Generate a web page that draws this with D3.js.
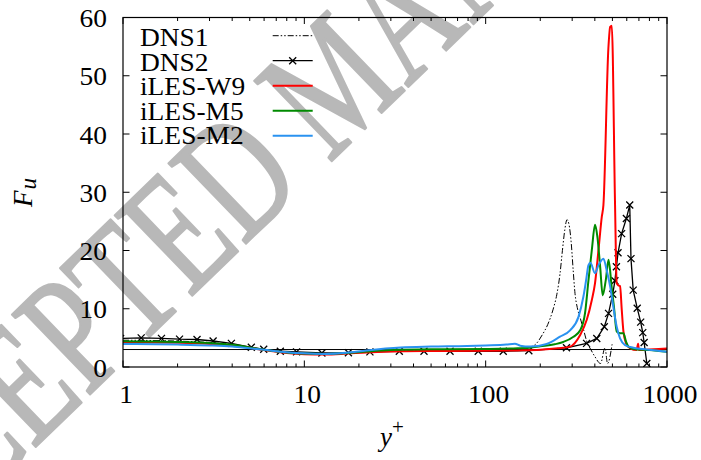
<!DOCTYPE html>
<html>
<head>
<meta charset="utf-8">
<script src="https://cdn.jsdelivr.net/npm/d3@7/dist/d3.min.js"></script>
<style>
  html, body { margin: 0; padding: 0; background: #fff; }
  svg { display: block; }
  text { font-family: "Liberation Serif", "Times New Roman", serif; fill: #000; }
</style>
</head>
<body>
<svg id="chart" width="701" height="460"></svg>
<script>
// Flatness of the streamwise velocity fluctuation, F_u, versus y+
const xTickLabels = ["1", "10", "100", "1000"];
const xMajorTicks = [1, 10, 100, 1000];
const yTicks = [0, 10, 20, 30, 40, 50, 60];
const gaussianFlatness = 3;

const seriesNames = ["DNS1", "DNS2", "iLES-W9", "iLES-M5", "iLES-M2"];

const dns1 = [[1,4.6],[2,4.45],[3,4.2],[4,3.85],[5,3.3],[6,2.95],[8,2.55],[10,2.35],[13,2.3],[17,2.4],
  [22,2.55],[30,2.7],[50,2.8],[80,2.85],[120,2.9],[150,3.0],[172,3.3],[190,4.0],[205,5.5],[220,7.3],
  [235,9.8],[247,12.5],[257,16],[265,20],[273,23.5],[281,25.3],[288,24.5],[296,21.5],[304,16.5],
  [311,12.6],[320,10.2],[333,8.3],[346,6.5],[361,4.4],[380,3.0],[400,1.8],[430,0.6],[455,3.3],
  [470,0.6],[498,3.9]];

const dns2 = [[0.97,4.9],[1.26,5.0],[1.63,4.92],[2.05,4.78],[2.56,4.72],[3.14,4.46],[3.96,4.06],
  [5.1,3.38],[5.97,3.04],[7.37,2.7],[9.06,2.6],[12.5,2.4],[17.5,2.45],[23,2.6],[33.4,2.7],
  [45.7,2.7],[63.6,2.7],[91,2.7],[125,2.7],[173,2.8],[279,3.3],[360,4.06],[410,4.9],[451,6.9],
  [476,9.2],[502,12.5],[516,14.8],[526,17.2],[537,19.6],[562,22.9],[597,25.5],[623,27.8],
  [633,18.6],[651,13.2],[685,10.1],[716,7.7],[735,5.9],[748,4.2],[774,0.6]];

const lesW9 = [[1,4.25],[1.5,4.22],[2,4.15],[3,3.95],[4,3.7],[5,3.3],[6,2.9],[8,2.4],[10,2.2],
  [13,2.15],[17,2.3],[22,2.5],[30,2.65],[50,2.75],[100,2.8],[150,2.85],[200,2.95],[250,3.2],
  [292,3.5],[332,5.5],[361,8.1],[385,11.5],[401,14.4],[419,20.1],[437,25.8],[446,27.8],
  [475,54.7],[486,58.4],[496,58.6],[517,27.8],[528,14.4],[540,14.0],[551,13.9],[563,9.8],
  [575,6.1],[595,4.06],[626,3.2],[680,2.9],[693,4.0],[700,2.9],[800,3.0],[900,3.1],[1000,3.2]];

const lesM5 = [[1,4.4],[1.5,4.38],[2,4.3],[3,4.1],[4,3.8],[5,3.35],[6,2.95],[8,2.5],[10,2.3],
  [13,2.25],[17,2.4],[22,2.65],[30,2.9],[50,3.05],[100,3.1],[150,3.2],[175,3.3],[200,3.55],
  [240,3.9],[268,4.3],[305,5.2],[332,6.3],[353,9.2],[369,14.9],[385,20.1],[401,24.4],[413,22.4],
  [428,17.2],[442,12.3],[460,15],[476,18.4],[496,13.5],[510,10.3],[528,6.1],[551,5.8],[575,5.8],
  [595,4.3],[613,3.5],[650,3.1],[800,2.9],[1000,2.6]];

const lesM2 = [[1,3.95],[1.5,3.92],[2,3.85],[3,3.7],[4,3.5],[5,3.2],[6,2.95],[8,2.55],[10,2.35],
  [13,2.25],[17,2.45],[22,2.85],[34,3.35],[50,3.5],[79,3.6],[100,3.7],[130,3.85],[145,4.0],
  [155,3.65],[176,3.5],[217,3.95],[257,5.2],[292,6.3],[325,8.6],[346,12.1],[358,14.9],[369,17.5],
  [378,17.9],[401,16.1],[419,17.5],[446,18.6],[465,16.6],[486,13.8],[506,10.3],[528,6.9],
  [551,4.9],[587,3.77],[653,3.3],[774,3.0],[1000,2.6]];

const svg = d3.select("#chart");
const margin = { left: 123, right: 34, top: 17.5, bottom: 93 };
const W = 701, H = 460;
const x = d3.scaleLog().domain([1, 1000]).range([margin.left, W - margin.right]);
const y = d3.scaleLinear().domain([0, 60]).range([H - margin.bottom, margin.top]);
const stretch = 1.12;
const fs = 24.5;

// background watermark
svg.append("text")
  .attr("transform", "translate(-148,624) rotate(-44) scale(0.72,1)")
  .attr("font-size", 170)
  .style("fill", "#b8b8b8")
  .style("stroke", "#b8b8b8")
  .style("stroke-width", 2.5)
  .style("stroke-linejoin", "round")
  .text("ACCEPTED MANUSCRIPT");

svg.append("clipPath").attr("id", "plotclip").append("rect")
  .attr("x", x(1)).attr("y", y(60)).attr("width", x(1000) - x(1)).attr("height", y(0) - y(60));

// ticks (inward, mirrored)
const tickG = svg.append("g").attr("stroke", "#000").attr("stroke-width", 1);
const minorTicks = x.ticks().filter(v => !xMajorTicks.includes(v));
minorTicks.forEach(v => {
  tickG.append("line").attr("x1", x(v)).attr("x2", x(v)).attr("y1", y(0)).attr("y2", y(0) - 3.5);
  tickG.append("line").attr("x1", x(v)).attr("x2", x(v)).attr("y1", y(60)).attr("y2", y(60) + 3.5);
});
xMajorTicks.forEach(v => {
  tickG.append("line").attr("x1", x(v)).attr("x2", x(v)).attr("y1", y(0)).attr("y2", y(0) - 6.5);
  tickG.append("line").attr("x1", x(v)).attr("x2", x(v)).attr("y1", y(60)).attr("y2", y(60) + 6.5);
});
yTicks.forEach(v => {
  tickG.append("line").attr("x1", x(1)).attr("x2", x(1) + 6.5).attr("y1", y(v)).attr("y2", y(v));
  tickG.append("line").attr("x1", x(1000)).attr("x2", x(1000) - 6.5).attr("y1", y(v)).attr("y2", y(v));
});

// tick labels
xMajorTicks.forEach((v, i) => {
  svg.append("text")
    .attr("transform", `translate(${x(v) + 3},403) scale(${stretch},1)`)
    .attr("text-anchor", "middle").attr("font-size", fs)
    .text(xTickLabels[i]);
});
yTicks.forEach(v => {
  svg.append("text")
    .attr("transform", `translate(107,${y(v) + 9.5}) scale(${stretch},1)`)
    .attr("text-anchor", "end").attr("font-size", fs)
    .text(v);
});

// reference line at the Gaussian flatness value
svg.append("line")
  .attr("x1", x(1)).attr("x2", x(1000))
  .attr("y1", y(gaussianFlatness)).attr("y2", y(gaussianFlatness))
  .attr("stroke", "#000").attr("stroke-width", 1);

const plot = svg.append("g").attr("clip-path", "url(#plotclip)");
const smooth = d3.line().x(d => x(d[0])).y(d => y(d[1])).curve(d3.curveMonotoneX);
const straight = d3.line().x(d => x(d[0])).y(d => y(d[1]));

plot.append("path").attr("d", smooth(dns1)).attr("fill", "none")
  .attr("stroke", "#000").attr("stroke-width", 1).attr("stroke-dasharray", "6,2,1.5,2,1.5,2");

plot.append("path").attr("d", straight(dns2)).attr("fill", "none")
  .attr("stroke", "#000").attr("stroke-width", 1.3);

const crossPath = (cx, cy, r) => `M${cx - r},${cy - r}L${cx + r},${cy + r}M${cx - r},${cy + r}L${cx + r},${cy - r}`;
plot.append("g").selectAll("path").data(dns2).join("path")
  .attr("d", d => crossPath(x(d[0]), y(d[1]), 3.5))
  .attr("stroke", "#000").attr("stroke-width", 1.3);

const lesColors = ["#ff0000", "#008a00", "#2a92f0"];
[lesW9, lesM5, lesM2].forEach((s, i) => {
  plot.append("path").attr("d", smooth(s)).attr("fill", "none")
    .attr("stroke", lesColors[i]).attr("stroke-width", 2);
});

// frame
svg.append("rect")
  .attr("x", x(1)).attr("y", y(60)).attr("width", x(1000) - x(1)).attr("height", y(0) - y(60))
  .attr("fill", "none").attr("stroke", "#000").attr("stroke-width", 1.2);

// legend
const legendStyles = [
  { color: "#000", width: 1, dash: "6,2,1.5,2,1.5,2", marker: false },
  { color: "#000", width: 1.3, dash: null, marker: true },
  { color: lesColors[0], width: 2, dash: null, marker: false },
  { color: lesColors[1], width: 2, dash: null, marker: false },
  { color: lesColors[2], width: 2, dash: null, marker: false }
];
seriesNames.forEach((name, i) => {
  svg.append("text")
    .attr("transform", `translate(140,${46 + i * 24.5}) scale(${stretch},1)`)
    .attr("font-size", fs).text(name);
  const ly = 35.7 + i * 25;
  const st = legendStyles[i];
  svg.append("line").attr("x1", 272.7).attr("x2", 312.7).attr("y1", ly).attr("y2", ly)
    .attr("stroke", st.color).attr("stroke-width", st.width)
    .attr("stroke-dasharray", st.dash);
  if (st.marker) {
    svg.append("path").attr("d", crossPath(292.7, ly, 3.5)).attr("stroke", "#000").attr("stroke-width", 1.3);
  }
});

// axis titles
const yTitle = svg.append("text")
  .attr("transform", "translate(32,207) rotate(-90)")
  .attr("font-size", 27).attr("font-style", "italic");
yTitle.append("tspan").text("F");
yTitle.append("tspan").attr("font-size", 23).attr("dy", 4).attr("dx", 1).text("u");

const xTitle = svg.append("text")
  .attr("transform", "translate(380,446)")
  .attr("font-size", 27).attr("font-style", "italic");
xTitle.append("tspan").text("y");
xTitle.append("tspan").attr("font-size", 21).attr("font-style", "normal").attr("dy", -12).text("+");
</script>
</body>
</html>
